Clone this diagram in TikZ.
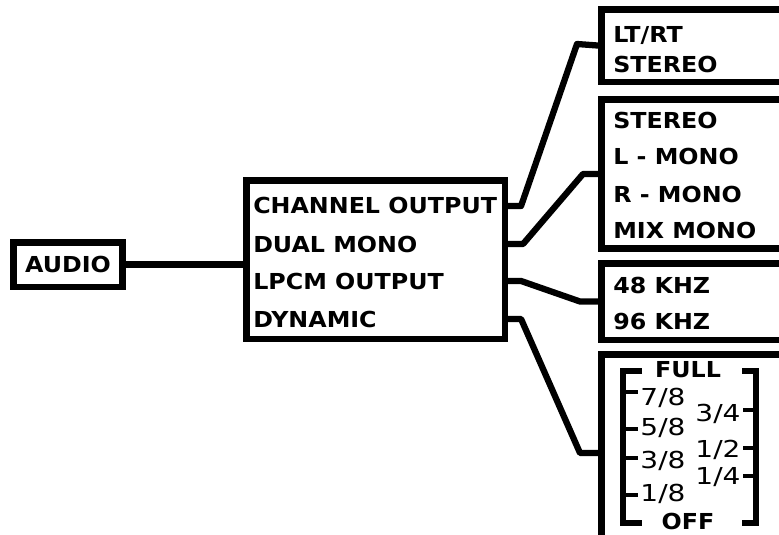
\documentclass[tikz,border=0pt]{standalone}
\usepackage{fontspec}
\newfontfamily\pixfont[FakeStretch=1.08]{DejaVu Sans}
\newfontfamily\fracfont[FakeStretch=1.2]{DejaVu Sans}
\usetikzlibrary{positioning}

\tikzset{
  panel/.style={draw, line width=4.9pt, inner sep=0pt},
  txt/.style={inner sep=0pt, font=\pixfont\bfseries\fontsize{16.5}{18}\selectfont},
  lbl/.style={txt, anchor=base west},
  frac/.style={inner sep=0pt, font=\fracfont\fontsize{17.5}{19}\selectfont},
  wire/.style={line width=4.7pt, line join=round},
  brk/.style={line width=4.9pt, line join=miter},
  tick/.style={line width=3.4pt}
}

\begin{document}
\begin{tikzpicture}[x=0.75pt, y=-0.75pt]
  \useasboundingbox (0,0) rectangle (779,535);
  \clip (0,0) rectangle (779,535);

  % source and menu
  \node[panel, txt, minimum width=82.1pt, minimum height=33.4pt] (audio) at (68,264.5) {AUDIO};
  \node[panel, anchor=north west, minimum width=193.9pt, minimum height=118.9pt] (menu) at (243,177) {};
  \node[lbl] (chan) at (253,214) {CHANNEL OUTPUT};
  \node[lbl] (dual) at (253,252) {DUAL MONO};
  \node[lbl] (lpcm) at (253,289) {LPCM OUTPUT};
  \node[lbl] (dyn) at (253,327) {DYNAMIC};

  % option boxes
  \node[panel, anchor=north west, minimum width=146.6pt, minimum height=54.4pt] (chanbox) at (598,6) {};
  \node[lbl] (ltrt) at (613,43) {LT/RT};
  \node[lbl] (stereoa) at (613,73) {STEREO};

  \node[panel, anchor=north west, minimum width=146.6pt, minimum height=112.1pt] (dualbox) at (598,96) {};
  \node[lbl] (stereob) at (613,128) {STEREO};
  \node[lbl] (lmono) at (613,165) {L - MONO};
  \node[lbl] (rmono) at (613,202) {R - MONO};
  \node[lbl] (mixmono) at (613,238) {MIX MONO};

  \node[panel, anchor=north west, minimum width=146.6pt, minimum height=57.4pt] (lpcmbox) at (598,260) {};
  \node[lbl] (khza) at (613,293) {48 KHZ};
  \node[lbl] (khzb) at (613,329) {96 KHZ};

  \node[panel, anchor=north west, minimum width=146.6pt, minimum height=148.1pt] (dynbox) at (598,351) {};
  \node[txt, anchor=base] (full) at (688,377) {FULL};
  \node[txt, anchor=base] (off) at (688,529) {OFF};

  % dynamic range scale
  \draw[brk] (642,371) -- (623,371) -- (623,523) -- (642,523);
  \draw[brk] (742,371) -- (756,371) -- (756,523) -- (742,523);
  \foreach \y in {392,429,458,495} \draw[tick] (623,\y) -- (638,\y);
  \foreach \y in {410,448,476} \draw[tick] (756,\y) -- (743,\y);
  \node[frac] (r78) at (663,398) {7/8};
  \node[frac] (r58) at (663,428) {5/8};
  \node[frac] (r38) at (663,461) {3/8};
  \node[frac] (r18) at (663,494) {1/8};
  \node[frac] (r34) at (718,414) {3/4};
  \node[frac] (r12) at (718,450) {1/2};
  \node[frac] (r14) at (718,477) {1/4};

  % connectors
  \draw[wire] (audio.east) -- (menu.west |- audio.east);
  \draw[wire] (menu.east |- chan) -- ++(13,0) -- (577,44) -- (chanbox.west);
  \draw[wire] (menu.east |- dual) -- ++(15,0) -- (583,174) -- (dualbox.west);
  \draw[wire] (menu.east |- lpcm) -- ++(13,0) -- (580,301.5) -- (lpcmbox.west);
  \draw[wire] (menu.east |- dyn) -- ++(13,0) -- (580,453) -- (dynbox.west);
\end{tikzpicture}
\end{document}
